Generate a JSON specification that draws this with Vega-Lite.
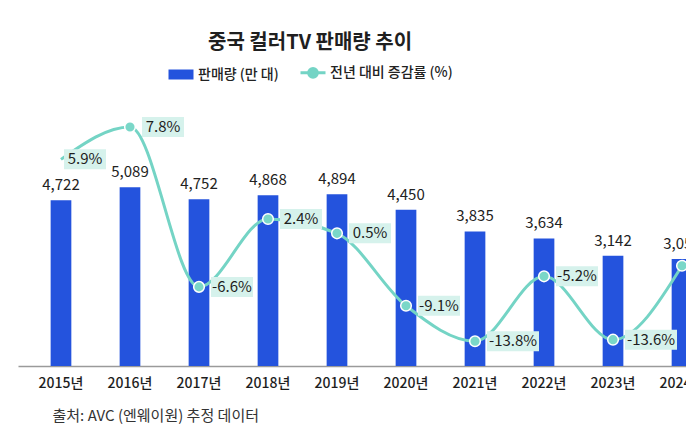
{
  "$schema": "https://vega.github.io/schema/vega-lite/v6.json",
  "width": 668,
  "height": 266,
  "autosize": {"type": "none"},
  "padding": {"left": 18, "top": 100, "right": 0, "bottom": 74},
  "background": "white",
  "config": {"font": "Noto Sans CJK KR", "view": {"stroke": null}},
  "title": {
    "text": "중국 컬러TV 판매량 추이",
    "anchor": "start",
    "dx": 190,
    "offset": 13,
    "fontSize": 20,
    "fontWeight": "bold",
    "color": "#1f1f1f"
  },
  "data": {
    "values": [
      {"year": "2015", "sales": 4722, "growth": 5.9},
      {"year": "2016", "sales": 5089, "growth": 7.8},
      {"year": "2017", "sales": 4752, "growth": -6.6},
      {"year": "2018", "sales": 4868, "growth": 2.4},
      {"year": "2019", "sales": 4894, "growth": 0.5},
      {"year": "2020", "sales": 4450, "growth": -9.1},
      {"year": "2021", "sales": 3835, "growth": -13.8},
      {"year": "2022", "sales": 3634, "growth": -5.2},
      {"year": "2023", "sales": 3142, "growth": -13.6},
      {"year": "2024", "sales": 3050, "growth": -3.8}
    ]
  },
  "transform": [
    {"calculate": "toString(datum.growth) + '%'", "as": "label"}
  ],
  "encoding": {
    "x": {
      "field": "year",
      "type": "ordinal",
      "scale": {"paddingInner": 0.7, "paddingOuter": 0.473, "range": [0, 707]},
      "axis": {
        "title": "출처: AVC (엔웨이원) 추정 데이터",
        "titleAnchor": "start",
        "titleAlign": "left",
        "titleX": 34,
        "titleY": 49,
        "titleBaseline": "middle",
        "titleFontSize": 15,
        "titleFontWeight": "normal",
        "titleColor": "#333333",
        "labelExpr": "datum.label + '년'",
        "labelAngle": 0,
        "labelFontSize": 14,
        "labelFontWeight": 500,
        "labelColor": "#1e1e1e",
        "labelPadding": 10,
        "ticks": false,
        "grid": false,
        "domainColor": "#9a9a9a",
        "domainWidth": 1.5
      }
    }
  },
  "layer": [
    {
      "mark": {"type": "bar"},
      "encoding": {
        "y": {"field": "sales", "type": "quantitative", "scale": {"domain": [0, 7578], "nice": false}, "axis": null},
        "color": {
          "datum": "판매량 (만 대)",
          "type": "nominal",
          "scale": {"domain": ["판매량 (만 대)", "전년 대비 증감률 (%)"], "range": ["#2453dd", "#74d4c5"]},
          "legend": {
            "orient": "none",
            "legendX": 156,
            "legendY": -34.5,
            "direction": "horizontal",
            "title": null,
            "padding": 0,
            "labelFontSize": 14,
            "labelFontWeight": 500,
            "labelColor": "#222222",
            "labelOffset": 10,
            "columnPadding": 15,
            "symbolSize": 625,
            "encode": {
              "symbols": {
                "update": {
                  "shape": {"signal": "datum.value === '판매량 (만 대)' ? 'M-1,-0.4H1V0.4H-1Z' : 'M-1,0H1M0.35,0A0.35,0.35,0,1,1,-0.35,0A0.35,0.35,0,1,1,0.35,0Z'"},
                  "fill": {"signal": "datum.value === '판매량 (만 대)' ? '#2453dd' : '#74d4c5'"},
                  "stroke": {"signal": "datum.value === '판매량 (만 대)' ? '#2453dd' : '#74d4c5'"},
                  "strokeWidth": {"signal": "datum.value === '판매량 (만 대)' ? 0 : 3"},
                  "opacity": {"value": 1},
                  "fillOpacity": {"value": 1}
                }
              }
            }
          }
        }
      }
    },
    {
      "mark": {"type": "text", "fontSize": 15, "color": "#222222", "baseline": "alphabetic", "dy": -10},
      "encoding": {
        "y": {"field": "sales", "type": "quantitative", "scale": {"domain": [0, 7578], "nice": false}, "axis": null},
        "text": {"field": "sales", "type": "quantitative", "format": ","}
      }
    },
    {
      "mark": {"type": "line", "interpolate": "monotone", "strokeWidth": 3},
      "encoding": {
        "y": {"field": "growth", "type": "quantitative", "scale": {"domain": [-15.59, 2.4, 7.8], "range": [254.7, 119, 27], "nice": false, "zero": false}, "axis": null},
        "color": {"datum": "전년 대비 증감률 (%)", "type": "nominal"}
      }
    },
    {
      "transform": [{"filter": "datum.year !== '2015'"}],
      "mark": {"type": "point", "filled": true, "size": 113, "fill": "#7ad7c8", "stroke": "white", "strokeWidth": 1.5, "opacity": 1},
      "encoding": {
        "y": {"field": "growth", "type": "quantitative", "scale": {"domain": [-15.59, 2.4, 7.8], "range": [254.7, 119, 27], "nice": false, "zero": false}, "axis": null}
      }
    },
    {
      "transform": [{"filter": "length(datum.label) <= 5 && datum.year !== '2015'"}],
      "encoding": {
        "y": {"field": "growth", "type": "quantitative", "scale": {"domain": [-15.59, 2.4, 7.8], "range": [254.7, 119, 27], "nice": false, "zero": false}, "axis": null}
      },
      "layer": [
        {"mark": {"type": "point", "shape": "M-1,-0.476H1V0.476H-1Z", "size": 1764, "filled": true, "fill": "#d6f2ec", "opacity": 1, "strokeWidth": 0, "xOffset": 33}},
        {"mark": {"type": "text", "fontSize": 15, "color": "#1e1e1e", "align": "center", "baseline": "middle", "xOffset": 33}, "encoding": {"text": {"field": "label"}}}
      ]
    },
    {
      "transform": [{"filter": "length(datum.label) > 5"}],
      "encoding": {
        "y": {"field": "growth", "type": "quantitative", "scale": {"domain": [-15.59, 2.4, 7.8], "range": [254.7, 119, 27], "nice": false, "zero": false}, "axis": null}
      },
      "layer": [
        {"mark": {"type": "point", "shape": "M-1,-0.385H1V0.385H-1Z", "size": 2704, "filled": true, "fill": "#d6f2ec", "opacity": 1, "strokeWidth": 0, "xOffset": 38}},
        {"mark": {"type": "text", "fontSize": 15, "color": "#1e1e1e", "align": "center", "baseline": "middle", "xOffset": 38}, "encoding": {"text": {"field": "label"}}}
      ]
    },
    {
      "transform": [{"filter": "datum.year === '2015'"}],
      "encoding": {
        "y": {"field": "growth", "type": "quantitative", "scale": {"domain": [-15.59, 2.4, 7.8], "range": [254.7, 119, 27], "nice": false, "zero": false}, "axis": null}
      },
      "layer": [
        {"mark": {"type": "point", "shape": "M-1,-0.476H1V0.476H-1Z", "size": 1764, "filled": true, "fill": "#d6f2ec", "opacity": 1, "strokeWidth": 0, "xOffset": 24}},
        {"mark": {"type": "text", "fontSize": 15, "color": "#1e1e1e", "align": "center", "baseline": "middle", "xOffset": 24}, "encoding": {"text": {"field": "label"}}}
      ]
    }
  ],
  "resolve": {"scale": {"y": "independent"}}
}
